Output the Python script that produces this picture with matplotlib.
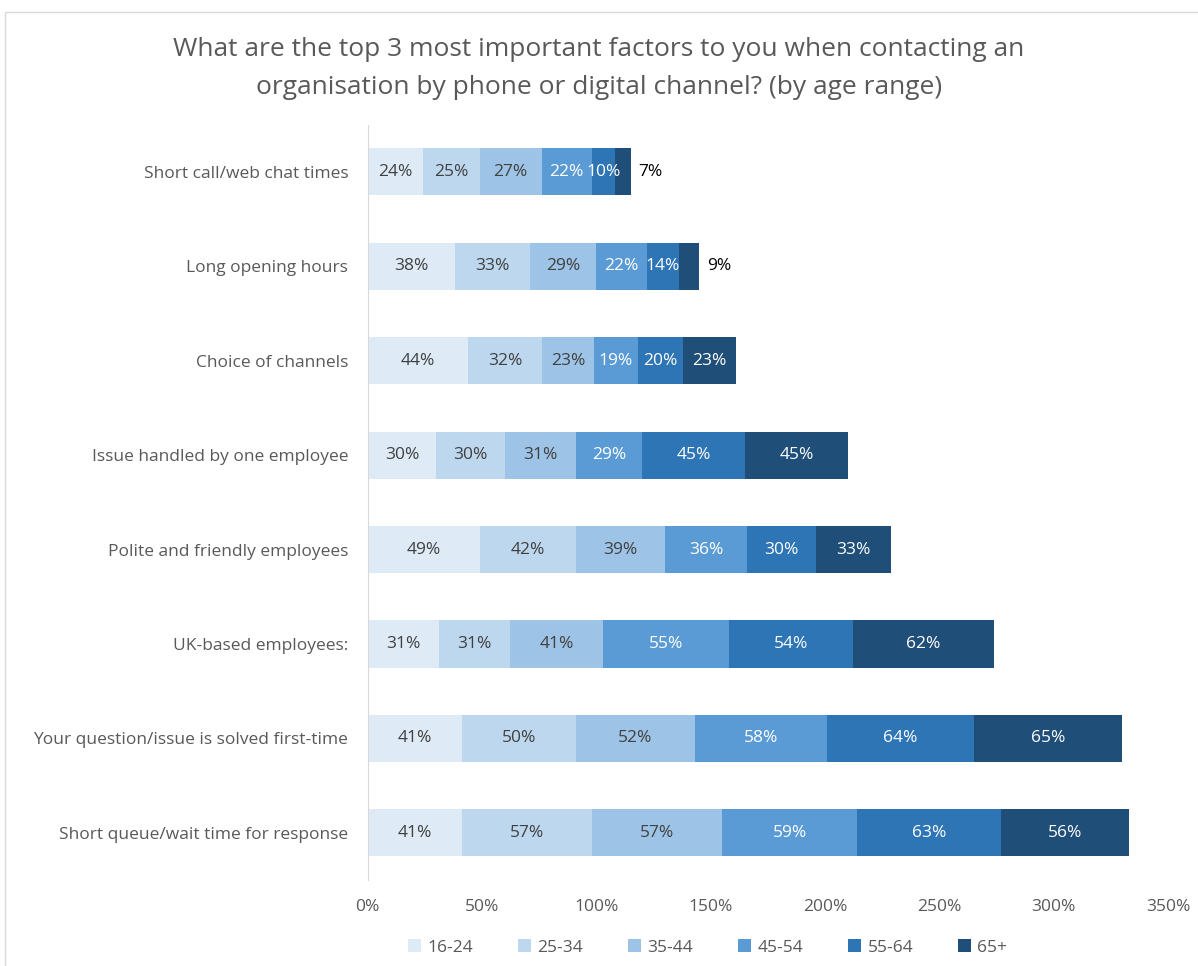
import matplotlib.pyplot as plt
import numpy as np

categories = ["Short call/web chat times", "Long opening hours", "Choice of channels",
              "Issue handled by one employee", "Polite and friendly employees",
              "UK-based employees:", "Your question/issue is solved first-time",
              "Short queue/wait time for response"]
age_groups = ["16-24", "25-34", "35-44", "45-54", "55-64", "65+"]
values = {
    "16-24": [24, 38, 44, 30, 49, 31, 41, 41],
    "25-34": [25, 33, 32, 30, 42, 31, 50, 57],
    "35-44": [27, 29, 23, 31, 39, 41, 52, 57],
    "45-54": [22, 22, 19, 29, 36, 55, 58, 59],
    "55-64": [10, 14, 20, 45, 30, 54, 64, 63],
    "65+":   [7, 9, 23, 45, 33, 62, 65, 56],
}
colors = ["#DEEBF7", "#BDD7EE", "#9DC3E6", "#5B9BD5", "#2E75B6", "#1F4E79"]
text_colors = ["#404040", "#404040", "#404040", "white", "white", "white"]

plt.rcParams['font.family'] = ['Open Sans', 'DejaVu Sans']

fig = plt.figure(figsize=(11.98, 9.66), dpi=100)
ax = fig.add_axes([0.307, 0.089, 0.668, 0.782])

y = np.arange(len(categories))[::-1]
left = np.zeros(len(categories))
for i, g in enumerate(age_groups):
    vals = np.array(values[g])
    bars = ax.barh(y, vals, left=left, height=0.5, color=colors[i], label=g)
    for j, v in enumerate(vals):
        # tiny last segments get their label outside the bar
        if g == "65+" and v < 10:
            ax.text(left[j] + v + 3.5, y[j], f"{v}%", va="center", ha="left",
                    fontsize=12.5, color="black")
        else:
            ax.text(left[j] + v / 2, y[j], f"{v}%", va="center", ha="center",
                    fontsize=12.5, color=text_colors[i])
    left += vals

ax.set_xlim(0, 350)
ax.set_ylim(-0.5, len(categories) - 0.5)
ax.set_xticks(np.arange(0, 351, 50))
ax.set_xticklabels([f"{t}%" for t in range(0, 351, 50)])
ax.set_yticks(y)
ax.set_yticklabels(categories)
ax.tick_params(axis="both", length=0, labelsize=12.5, colors="#595959")
ax.tick_params(axis="x", pad=14)
ax.tick_params(axis="y", pad=14)
for s in ["top", "right", "bottom"]:
    ax.spines[s].set_visible(False)
ax.spines["left"].set_color("#D9D9D9")

fig.suptitle("What are the top 3 most important factors to you when contacting an\n"
             "organisation by phone or digital channel? (by age range)",
             y=0.962, fontsize=19, color="#595959", linespacing=1.7)

ax.legend(loc="upper center", bbox_to_anchor=(0.425, -0.058), ncol=6, frameon=False,
          fontsize=12.5, labelcolor="#595959", handlelength=0.7, handleheight=0.7,
          columnspacing=2.6, handletextpad=0.4)

border = plt.Rectangle((0.004, -0.01), 1.1, 0.998, transform=fig.transFigure,
                       fill=False, edgecolor="#D9D9D9", linewidth=1)
fig.patches.append(border)

fig.savefig("out.png", dpi=100, facecolor="white")
